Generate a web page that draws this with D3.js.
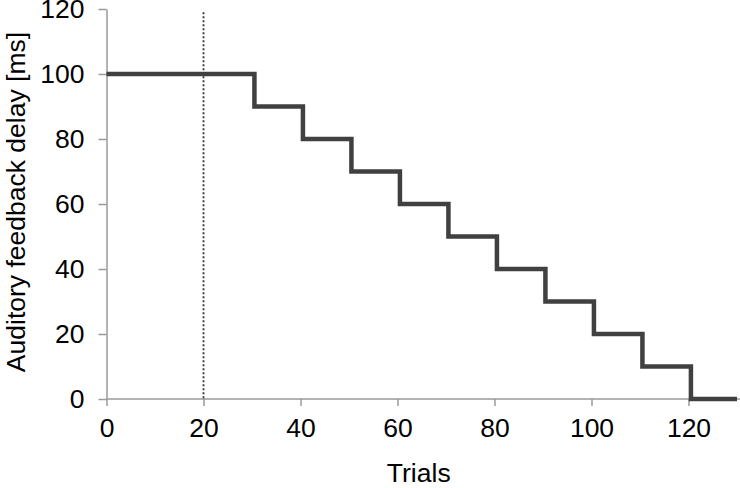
<!DOCTYPE html>
<meta charset="utf-8">
<style>
  body { margin: 0; background-color: #ffffff; }
  text { font-family: "Liberation Sans", Arial, sans-serif; fill: #000; }
  .axis path, .axis line { fill: none; stroke: #9a9a9a; stroke-width: 1.5px; }
</style>
<svg width="740" height="488"></svg>
<script src="https://d3js.org/d3.v7.min.js"></script>
<script>
  // step starts (trial) and delay values [ms]
  var stepTrials = [0, 30.5, 40.5, 50.5, 60.5, 70.5, 80.5, 90.5, 100.5, 110.5, 120.5, 130];
  var delays = [100, 90, 80, 70, 60, 50, 40, 30, 20, 10, 0, 0];
  var xTicks = [0, 20, 40, 60, 80, 100, 120];
  var yTicks = [0, 20, 40, 60, 80, 100, 120];
  var markerTrial = 20;

  var svg = d3.select("svg"),
    margin = { top: 9, right: 3, bottom: 89, left: 106.5 },
    width = +svg.attr("width") - margin.left - margin.right,
    height = +svg.attr("height") - margin.top - margin.bottom;

  var x = d3.scaleLinear().domain([0, 130]).range([0, width]),
    y = d3.scaleLinear().domain([0, 120]).range([height, 0]);

  var g = svg.append("g")
    .attr("transform", "translate(" + margin.left + "," + margin.top + ")");

  var xAxis = g.append("g")
    .attr("class", "axis axis--x")
    .attr("transform", "translate(0," + height + ")")
    .call(d3.axisBottom(x).tickValues(xTicks).tickSizeInner(7).tickSizeOuter(0).tickPadding(12));
  xAxis.select(".domain").attr("d", "M0,0H" + (width + 3));
  xAxis.selectAll("text").style("font-size", "26.5px");

  var yAxis = g.append("g")
    .attr("class", "axis axis--y")
    .call(d3.axisLeft(y).tickValues(yTicks).tickSizeInner(8).tickSizeOuter(0).tickPadding(14));
  yAxis.selectAll("text").style("font-size", "26.5px");

  // dotted marker
  g.append("line")
    .attr("x1", x(markerTrial)).attr("x2", x(markerTrial))
    .attr("y1", y(119)).attr("y2", height)
    .attr("stroke", "#333").attr("stroke-width", 1.8)
    .attr("stroke-dasharray", "2,2");

  var pts = stepTrials.map(function (t, i) { return [t, delays[i]]; });
  g.append("path")
    .datum(pts)
    .attr("fill", "none")
    .attr("stroke", "#404040")
    .attr("stroke-width", 4.5)
    .attr("d", d3.line().curve(d3.curveStepAfter)
      .x(function (d) { return x(d[0]); })
      .y(function (d) { return y(d[1]); }));

  svg.append("text")
    .attr("x", margin.left + x(65) - 3)
    .attr("y", 482)
    .attr("text-anchor", "middle")
    .style("font-size", "26.5px")
    .text("Trials");

  svg.append("text")
    .attr("transform", "translate(25," + 202 + ") rotate(-90)")
    .attr("text-anchor", "middle")
    .style("font-size", "26.5px")
    .text("Auditory feedback delay [ms]");
</script>
